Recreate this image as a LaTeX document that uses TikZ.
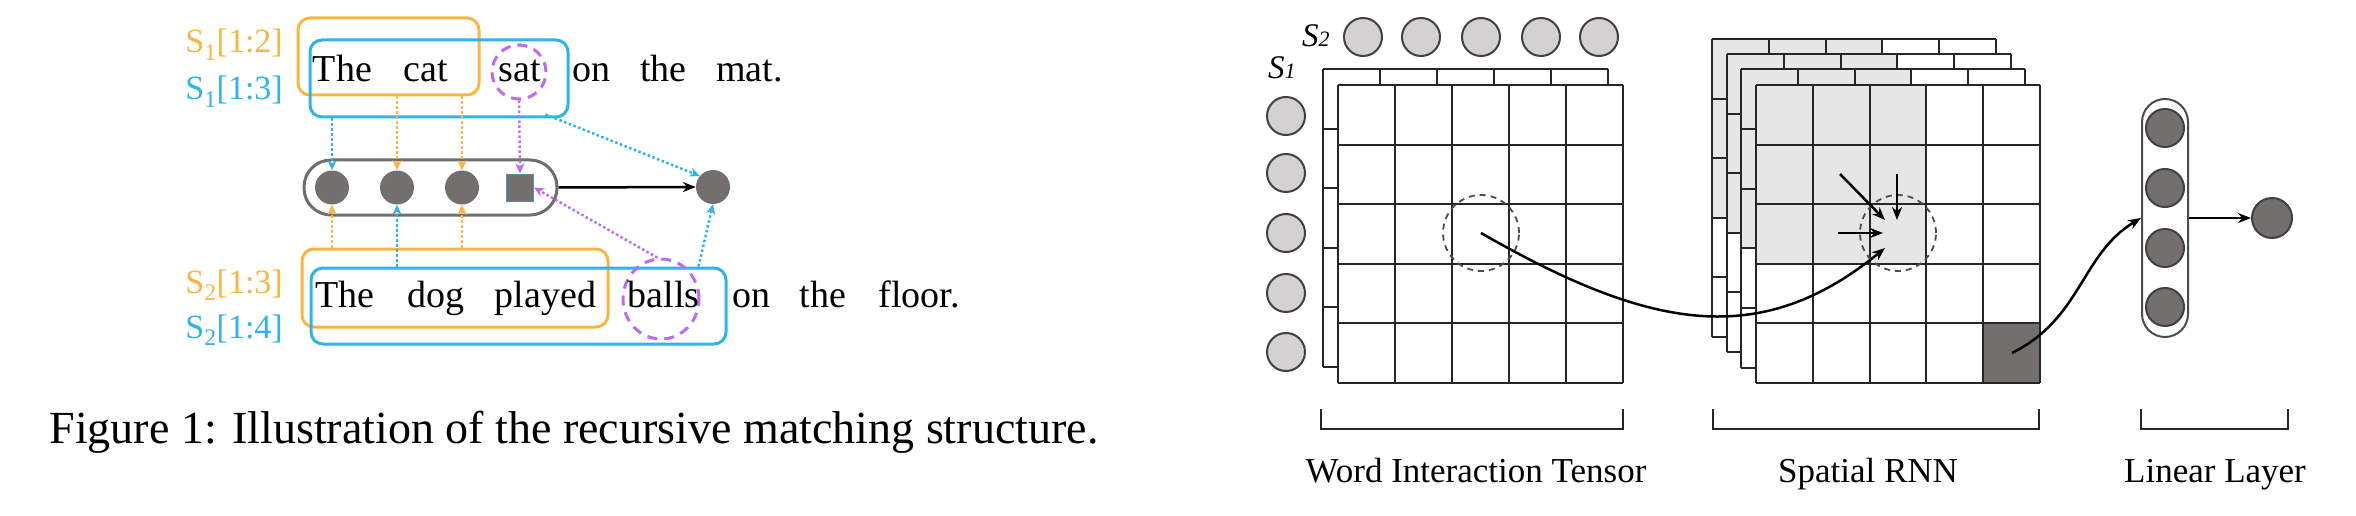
\documentclass[tikz,border=0pt]{standalone}
\usepackage{fontspec}
\setmainfont{Liberation Serif}
\usetikzlibrary{arrows.meta,shapes.geometric,calc}
\definecolor{orng}{HTML}{FBB540}
\definecolor{cyn}{HTML}{2EB4EA}
\definecolor{prpl}{HTML}{B96CF5}
\definecolor{dgray}{HTML}{736F6E}
\definecolor{lgray}{HTML}{D3D1D2}
\definecolor{gfill}{HTML}{E6E6E6}
\definecolor{pillgray}{HTML}{6E6E6E}
\newcommand\rnnlayergrid{%
  \fill[white] (0,0) rectangle (284,298);
  \fill[gfill] (0,0) rectangle (170.4,178.8);
  \foreach \i in {0,...,5} \draw[gridline] (\i*56.8,0) -- (\i*56.8,298);
  \foreach \j in {0,...,5} \draw[gridline] (0,\j*59.6) -- (284,\j*59.6);
}
\newcommand\tensorgrid{%
  \fill[white] (0,0) rectangle (285,298);
  \foreach \i in {0,...,5} \draw[gridline] (\i*57,0) -- (\i*57,298);
  \foreach \j in {0,...,5} \draw[gridline] (0,\j*59.6) -- (285,\j*59.6);
}
\begin{document}
\begin{tikzpicture}[x=1pt,y=-1pt,
  word/.style={inner sep=0pt, anchor=base, font=\fontsize{38}{44}\selectfont},
  lab/.style={inner sep=0pt, anchor=base east, font=\fontsize{34}{40}\selectfont},
  obox/.style={draw=orng, line width=3pt, rounded corners=12pt, inner sep=0pt},
  cbox/.style={draw=cyn, line width=3pt, rounded corners=12pt, inner sep=0pt},
  pdash/.style={draw=prpl, line width=3pt, dash pattern=on 10pt off 7pt, inner sep=0pt},
  dotarr/.style={line width=2.5pt, dash pattern=on 2.5pt off 2.5pt, -{Stealth[length=10pt,width=9pt,inset=3pt]}},
  dnode/.style={circle, fill=dgray, minimum size=34pt, inner sep=0pt},
  blackarr/.style={black, line width=2.5pt, -{Stealth[length=13pt,width=10pt]}},
  gridline/.style={line width=2pt, black!85, line cap=square},
  scirc/.style={circle, fill=lgray, draw=black!75, line width=2pt, minimum size=38pt, inner sep=0pt},
  lcirc/.style={circle, fill=dgray, draw=black!75, line width=2pt, minimum size=38pt, inner sep=0pt},
  dcirc/.style={circle, draw=black!70, line width=1.8pt, dash pattern=on 6pt off 5pt, minimum size=76pt, inner sep=0pt},
  brk/.style={line width=2.5pt, black!85},
  blab/.style={inner sep=0pt, anchor=base, font=\fontsize{35}{40}\selectfont}
]
\useasboundingbox (0,0) rectangle (2356,516);

% ---------------- left figure ----------------
\node[lab, text=orng] (l1) at (283,53) {S\textsubscript{1}[1:2]};
\node[lab, text=cyn] (l2) at (283,100) {S\textsubscript{1}[1:3]};
\node[lab, text=orng] (l3) at (283,293) {S\textsubscript{2}[1:3]};
\node[lab, text=cyn] (l4) at (283,338) {S\textsubscript{2}[1:4]};

\node[obox, minimum width=181pt, minimum height=77pt] (ob1) at (388.5,56.5) {};
\node[cbox, minimum width=258pt, minimum height=77pt] (cb1) at (439,78.5) {};
\node[obox, minimum width=306pt, minimum height=78pt] (ob2) at (455,288) {};
\node[cbox, minimum width=415pt, minimum height=76pt] (cb2) at (518.5,306) {};
\node[pdash, circle, minimum size=54pt] (sat) at (519,72) {};
\node[pdash, ellipse, minimum width=76pt, minimum height=80pt] (balls) at (661,299) {};

\node[word] (w1) at (342.5,82) {The};
\node[word] (w2) at (426,82) {cat};
\node[word] (w3) at (520,82) {sat};
\node[word] (w4) at (591.5,82) {on};
\node[word] (w5) at (663.5,82) {the};
\node[word] (w6) at (749.5,82) {mat.};

\node[word] (v1) at (345,307) {The};
\node[word] (v2) at (435.5,307) {dog};
\node[word] (v3) at (545.5,307) {played};
\node[word] (v4) at (663.5,307) {balls};
\node[word] (v5) at (751.5,307) {on};
\node[word] (v6) at (823,307) {the};
\node[word] (v7) at (919,307) {floor.};

\node[draw=pillgray, line width=3pt, rounded corners=27pt, minimum width=253pt, minimum height=55pt, inner sep=0pt] (pill) at (430.5,187.5) {};
\node[dnode] (c1) at (332,187.5) {};
\node[dnode] (c2) at (397,187.5) {};
\node[dnode] (c3) at (462,187.5) {};
\node[fill=dgray, draw=cyn!50!dgray, line width=1pt, minimum size=27pt, inner sep=0pt] (sq) at (520,187.5) {};
\node[dnode] (out) at (713,187) {};

\draw[dotarr, cyn] (c1 |- cb1.south) -- (c1.north);
\draw[dotarr, orng] (c2 |- ob1.south) -- (c2.north);
\draw[dotarr, orng] (c3 |- ob1.south) -- (c3.north);
\draw[dotarr, prpl] (sat.south) -- (sq.north);
\draw[dotarr, cyn] ($(cb1.south east)+(-24,-4)$) -- (out.140);
\draw[blackarr] (pill.east) -- (out.west);
\draw[dotarr, orng] (c1 |- ob2.north) -- (c1.south);
\draw[dotarr, cyn] (c2 |- cb2.north) -- (c2.south);
\draw[dotarr, orng] (c3 |- ob2.north) -- (c3.south);
\draw[dotarr, prpl] (balls.95) -- (sq.east);
\draw[dotarr, cyn] ($(cb2.north east)+(-29,0)$) -- (out.south);

\node[inner sep=0pt, anchor=base, font=\fontsize{46}{52}\selectfont] (cap) at (574,443) {Figure 1: Illustration of the recursive matching structure.};

% ---------------- right figure ----------------
\node[inner sep=0pt, anchor=base west, font=\fontsize{33}{38}\selectfont\itshape] (s2) at (1302,47) {S\fontsize{22}{24}\selectfont 2};
\node[inner sep=0pt, anchor=base west, font=\fontsize{33}{38}\selectfont\itshape] (s1) at (1268,79) {S\fontsize{22}{24}\selectfont 1};
\foreach \x [count=\k] in {1363,1421,1481,1541,1599} \node[scirc] (t\k) at (\x,37) {};
\foreach \y [count=\k] in {116,173,233,293,352} \node[scirc] (r\k) at (1286,\y) {};

% word interaction tensor
\begin{scope}[shift={(1323,69)}] \tensorgrid \end{scope}
\begin{scope}[shift={(1338,85)}] \tensorgrid \end{scope}
\node[dcirc] (wcirc) at (1481,233) {};

% spatial RNN
\begin{scope}[shift={(1712,39)}] \rnnlayergrid \end{scope}
\begin{scope}[shift={(1727,54)}] \rnnlayergrid \end{scope}
\begin{scope}[shift={(1741,69.5)}] \rnnlayergrid \end{scope}
\begin{scope}[shift={(1756,85)}]
  \fill[white] (0,0) rectangle (284,298);
  \fill[gfill] (0,0) rectangle (170.4,178.8);
  \fill[dgray] (227.2,238.4) rectangle (284,298);
  \foreach \i in {0,...,5} \draw[gridline] (\i*56.8,0) -- (\i*56.8,298);
  \foreach \j in {0,...,5} \draw[gridline] (0,\j*59.6) -- (284,\j*59.6);
\end{scope}
\coordinate (dk) at (2012,353);
\node[dcirc] (rcirc) at (1898,233) {};
\coordinate (a1s) at (1840,174); \coordinate (a1e) at (1885,220);
\coordinate (a2s) at (1897,174); \coordinate (a2e) at (1897,220);
\coordinate (a3s) at (1838,233); \coordinate (a3e) at (1883,233);
\coordinate (a4e) at (1885,248);
\draw[blackarr] (a1s) -- (a1e);
\draw[blackarr] (a2s) -- (a2e);
\draw[blackarr] (a3s) -- (a3e);
\draw[blackarr] (wcirc.center) .. controls (1650,330) and (1760,350) .. (a4e);

% linear layer
\node[draw=black!70, line width=2pt, rounded corners=23pt, minimum width=46pt, minimum height=238pt, inner sep=0pt, fill=white] (lin) at (2165,218) {};
\foreach \y [count=\k] in {128,188,248,307} \node[lcirc] (n\k) at (2165,\y) {};
\node[lcirc, minimum size=40pt] (out2) at (2272,218) {};
\draw[blackarr] (dk) .. controls (2082,318) and (2081,254) .. (lin.west);
\draw[blackarr] (lin.east) -- (out2.west);

% brackets and labels
\draw[brk] (1321,409) -- (1321,429) -- (1623,429) -- (1623,409);
\draw[brk] (1713,409) -- (1713,429) -- (2039,429) -- (2039,409);
\draw[brk] (2141,409) -- (2141,429) -- (2288,429) -- (2288,409);
\node[blab] (b1) at (1476,482) {Word Interaction Tensor};
\node[blab] (b2) at (1868,482) {Spatial RNN};
\node[blab] (b3) at (2215,482) {Linear Layer};
\end{tikzpicture}
\end{document}
